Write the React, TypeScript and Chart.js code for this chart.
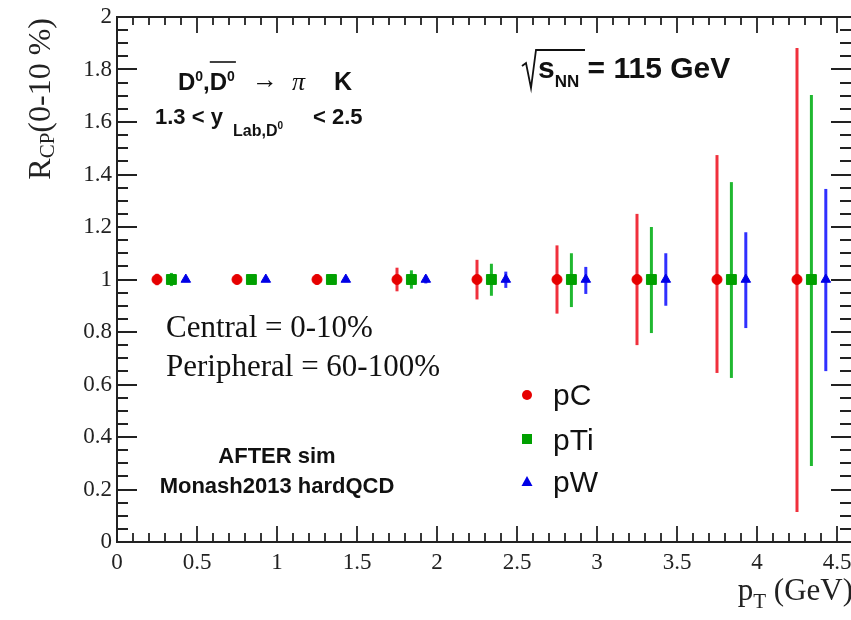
import React, { useEffect, useRef } from "react";
import { Chart, registerables } from "chart.js";

Chart.register(...registerables);

// ---- data ----
const ptC = [0.25, 0.75, 1.25, 1.75, 2.25, 2.75, 3.25, 3.75, 4.25];
const ptTi = [0.34, 0.84, 1.34, 1.84, 2.34, 2.84, 3.34, 3.84, 4.34];
const ptW = [0.43, 0.93, 1.43, 1.93, 2.43, 2.93, 3.43, 3.93, 4.43];

const rcpC = [1, 1, 1, 1, 1, 1, 1, 1, 1];
const rcpTi = [1, 1, 1, 1, 1, 1, 1, 1, 1];
const rcpW = [1, 1, 1, 1, 1, 1, 1, 1, 1];

const errUpC = [0.022, 0.01, 0.02, 0.045, 0.075, 0.13, 0.25, 0.474, 0.882];
const errDnC = [0.022, 0.01, 0.02, 0.045, 0.076, 0.13, 0.25, 0.356, 0.886];
const errUpTi = [0.025, 0.01, 0.02, 0.035, 0.06, 0.1, 0.2, 0.371, 0.703];
const errDnTi = [0.025, 0.01, 0.02, 0.035, 0.062, 0.105, 0.204, 0.375, 0.71];
const errUpW = [0.01, 0.008, 0.01, 0.015, 0.03, 0.048, 0.1, 0.18, 0.345];
const errDnW = [0.01, 0.008, 0.01, 0.015, 0.032, 0.055, 0.1, 0.185, 0.349];

const seriesNames = ["pC", "pTi", "pW"];

const xMin = 0;
const xMax = 4.5875;
const yMin = 0;
const yMax = 2;

const SERIF = '"Liberation Serif", "Times New Roman", serif';
const SANS = '"Liberation Sans", Arial, Helvetica, sans-serif';

const RED = "#e60000";
const RED_LINE = "#f0303c";
const GREEN = "#00a000";
const GREEN_LINE = "#20b830";
const BLUE = "#0000e6";
const BLUE_LINE = "#3030ff";

const series = [
  { x: ptC, y: rcpC, up: errUpC, dn: errDnC, line: RED_LINE },
  { x: ptTi, y: rcpTi, up: errUpTi, dn: errDnTi, line: GREEN_LINE },
  { x: ptW, y: rcpW, up: errUpW, dn: errDnW, line: BLUE_LINE },
];

type Seg = { t: string; f: string; dy?: number; x?: number };

function rich(ctx: CanvasRenderingContext2D, x: number, y: number, segs: Seg[]) {
  let cx = x;
  const pos: number[] = [];
  for (const s of segs) {
    ctx.font = s.f;
    if (s.x !== undefined) cx = s.x;
    pos.push(cx);
    ctx.fillText(s.t, cx, y + (s.dy || 0));
    cx += ctx.measureText(s.t).width;
  }
  pos.push(cx);
  return pos;
}

function richWidth(ctx: CanvasRenderingContext2D, segs: Seg[]) {
  let w = 0;
  for (const s of segs) {
    ctx.font = s.f;
    w += ctx.measureText(s.t).width;
  }
  return w;
}

const fmt = (v: any) => String(Math.round(Number(v) * 100) / 100);

const rootPlugin = {
  id: "rootStyle",
  beforeDatasetsDraw(chart: any) {
    const ctx = chart.ctx as CanvasRenderingContext2D;
    const xs = chart.scales.x;
    const ys = chart.scales.y;
    ctx.save();
    ctx.lineWidth = 3;
    ctx.lineCap = "butt";
    for (const s of series) {
      ctx.strokeStyle = s.line;
      for (let i = 0; i < s.x.length; i++) {
        const px = xs.getPixelForValue(s.x[i]);
        const top = ys.getPixelForValue(s.y[i] + s.up[i]);
        const bot = ys.getPixelForValue(s.y[i] - s.dn[i]);
        ctx.beginPath();
        ctx.moveTo(px, top);
        ctx.lineTo(px, bot);
        ctx.stroke();
      }
    }
    ctx.restore();
  },
  afterDatasetsDraw(chart: any) {
    const ctx = chart.ctx as CanvasRenderingContext2D;
    const xs = chart.scales.x;
    const ys = chart.scales.y;
    const a = chart.chartArea;
    ctx.save();
    ctx.strokeStyle = "#222";
    ctx.lineWidth = 2;
    // frame (right edge falls outside the picture)
    ctx.beginPath();
    ctx.moveTo(a.left, a.top);
    ctx.lineTo(a.right, a.top);
    ctx.moveTo(a.left, a.top - 1);
    ctx.lineTo(a.left, a.bottom + 1);
    ctx.moveTo(a.left, a.bottom);
    ctx.lineTo(a.right, a.bottom);
    ctx.stroke();
    // x ticks
    ctx.lineWidth = 1.8;
    ctx.beginPath();
    for (let k = 0; k <= 45; k++) {
      const v = k / 10;
      const px = Math.round(xs.getPixelForValue(v));
      const major = k % 5 === 0;
      const lb = major ? 16 : 9;
      const lt = major ? 16 : 8;
      ctx.moveTo(px, a.bottom);
      ctx.lineTo(px, a.bottom - lb);
      ctx.moveTo(px, a.top);
      ctx.lineTo(px, a.top + lt);
    }
    // y ticks
    for (let k = 0; k <= 40; k++) {
      const v = k / 20;
      const py = Math.round(ys.getPixelForValue(v));
      const major = k % 4 === 0;
      const l = major ? 20 : 11;
      ctx.moveTo(a.left, py);
      ctx.lineTo(a.left + l, py);
      ctx.moveTo(a.right + 1, py);
      ctx.lineTo(a.right - l, py);
    }
    ctx.stroke();
    ctx.restore();
  },
  afterDraw(chart: any) {
    const ctx = chart.ctx as CanvasRenderingContext2D;
    ctx.save();
    ctx.fillStyle = "#111";
    ctx.textAlign = "left";
    ctx.textBaseline = "alphabetic";

    // D0,D0bar -> pi K
    const b1 = "bold 24px " + SANS;
    const sup = "bold 14px " + SANS;
    const p1 = rich(ctx, 178, 90, [
      { t: "D", f: b1 },
      { t: "0", f: sup, dy: -9 },
      { t: ",", f: b1 },
      { t: "D", f: b1 },
      { t: "0", f: sup, dy: -9 },
    ]);
    ctx.strokeStyle = "#111";
    ctx.lineWidth = 1.6;
    ctx.beginPath();
    ctx.moveTo(p1[3], 62);
    ctx.lineTo(p1[5] + 1, 62);
    ctx.stroke();
    ctx.font = "26px " + SANS;
    ctx.fillText("\u2192", 252, 88);
    ctx.font = "italic 26px " + SERIF;
    ctx.fillText("\u03c0", 292, 90);
    ctx.font = "bold 25px " + SANS;
    ctx.fillText("K", 334, 90);

    // 1.3 < y_{Lab,D0} < 2.5
    const b2 = "bold 22px " + SANS;
    rich(ctx, 155, 124, [
      { t: "1.3 < y", f: b2 },
      { t: "Lab,D", f: "bold 16px " + SANS, dy: 12, x: 233 },
      { t: "0", f: "bold 10px " + SANS, dy: 5 },
    ]);
    ctx.font = b2;
    ctx.fillText("< 2.5", 313, 124);

    // sqrt(s_NN) = 115 GeV
    ctx.strokeStyle = "#111";
    ctx.lineWidth = 1.8;
    ctx.beginPath();
    ctx.moveTo(522, 66);
    ctx.lineTo(526, 63);
    ctx.lineTo(531, 88);
    ctx.lineTo(536, 50);
    ctx.lineTo(585, 50);
    ctx.stroke();
    const b3 = "bold 30px " + SANS;
    rich(ctx, 538, 78, [
      { t: "s", f: b3 },
      { t: "NN", f: "bold 17px " + SANS, dy: 9 },
      { t: " = 115 GeV", f: b3 },
    ]);

    // Central / Peripheral
    ctx.font = "31px " + SERIF;
    ctx.fillStyle = "#111";
    ctx.fillText("Central = 0-10%", 166, 337);
    ctx.fillText("Peripheral = 60-100%", 166, 376);

    // legend
    const lx = 527;
    const ly = [395, 439, 482];
    const lcol = [RED, GREEN, BLUE];
    ctx.fillStyle = lcol[0];
    ctx.beginPath();
    ctx.arc(lx, ly[0], 5, 0, Math.PI * 2);
    ctx.fill();
    ctx.fillStyle = lcol[1];
    ctx.fillRect(lx - 5, ly[1] - 5, 10, 10);
    ctx.fillStyle = lcol[2];
    ctx.beginPath();
    ctx.moveTo(lx, ly[2] - 6);
    ctx.lineTo(lx + 5.5, ly[2] + 4);
    ctx.lineTo(lx - 5.5, ly[2] + 4);
    ctx.closePath();
    ctx.fill();
    ctx.fillStyle = "#111";
    ctx.font = "30px " + SANS;
    const tb = [405, 450, 492];
    seriesNames.forEach((n, i) => ctx.fillText(n, 553, tb[i]));

    // AFTER sim
    ctx.textAlign = "center";
    ctx.font = "bold 22px " + SANS;
    ctx.fillText("AFTER sim", 277, 463);
    ctx.fillText("Monash2013 hardQCD", 277, 493);

    // axis titles
    ctx.textAlign = "left";
    ctx.fillStyle = "#222";
    const ySegs: Seg[] = [
      { t: "R", f: "32px " + SERIF },
      { t: "CP", f: "21px " + SERIF, dy: 4 },
      { t: "(0-10 %)", f: "32px " + SERIF },
    ];
    const yw = richWidth(ctx, ySegs);
    ctx.save();
    ctx.translate(50, 18);
    ctx.rotate(-Math.PI / 2);
    rich(ctx, -yw, 0, ySegs);
    ctx.restore();

    const xSegs: Seg[] = [
      { t: "p", f: "31px " + SERIF },
      { t: "T", f: "21px " + SERIF, dy: 8 },
      { t: " (GeV)", f: "31px " + SERIF },
    ];
    const xw = richWidth(ctx, xSegs);
    rich(ctx, 853 - xw, 600, xSegs);

    ctx.restore();
  },
};

export default function App() {
  const ref = useRef<HTMLCanvasElement>(null);
  useEffect(() => {
    if (!ref.current) return;
    const mk = (xv: number[], yv: number[]) => xv.map((x, i) => ({ x, y: yv[i] }));
    const chart = new Chart(ref.current, {
      type: "scatter",
      data: {
        datasets: [
          {
            label: seriesNames[0],
            data: mk(ptC, rcpC),
            pointStyle: "circle",
            pointRadius: 5,
            backgroundColor: RED,
            borderColor: RED,
            borderWidth: 1,
          },
          {
            label: seriesNames[1],
            data: mk(ptTi, rcpTi),
            pointStyle: "rect",
            pointRadius: 7,
            backgroundColor: GREEN,
            borderColor: GREEN,
            borderWidth: 1,
          },
          {
            label: seriesNames[2],
            data: mk(ptW, rcpW),
            pointStyle: "triangle",
            pointRadius: 5.5,
            backgroundColor: BLUE,
            borderColor: BLUE,
            borderWidth: 1,
          },
        ],
      },
      options: {
        responsive: false,
        animation: false,
        devicePixelRatio: 1,
        layout: { autoPadding: false, padding: { top: 17, right: 0, bottom: 0, left: 0 } },
        plugins: { legend: { display: false }, tooltip: { enabled: false } },
        scales: {
          x: {
            type: "linear",
            min: xMin,
            max: xMax,
            grid: { display: false, drawTicks: false },
            border: { display: false },
            ticks: {
              stepSize: 0.5,
              includeBounds: false,
              autoSkip: false,
              maxRotation: 0,
              color: "#222",
              padding: 7,
              font: { family: SERIF, size: 23 },
              callback: fmt,
            },
            afterFit: (s: any) => {
              s.height = 78;
              s.paddingLeft = 0;
              s.paddingRight = 0;
            },
          },
          y: {
            type: "linear",
            min: yMin,
            max: yMax,
            grid: { display: false, drawTicks: false },
            border: { display: false },
            ticks: {
              stepSize: 0.2,
              autoSkip: false,
              color: "#222",
              padding: 5,
              font: { family: SERIF, size: 23 },
              callback: fmt,
            },
            afterFit: (s: any) => {
              s.width = 117;
              s.paddingTop = 0;
              s.paddingBottom = 0;
            },
          },
        },
      },
      plugins: [rootPlugin],
    });
    return () => chart.destroy();
  }, []);
  return (
    <div style={{ position: "fixed", left: 0, top: 0, width: 851, height: 620, background: "#fff" }}>
      <canvas ref={ref} width={851} height={620} style={{ display: "block" }} />
    </div>
  );
}
